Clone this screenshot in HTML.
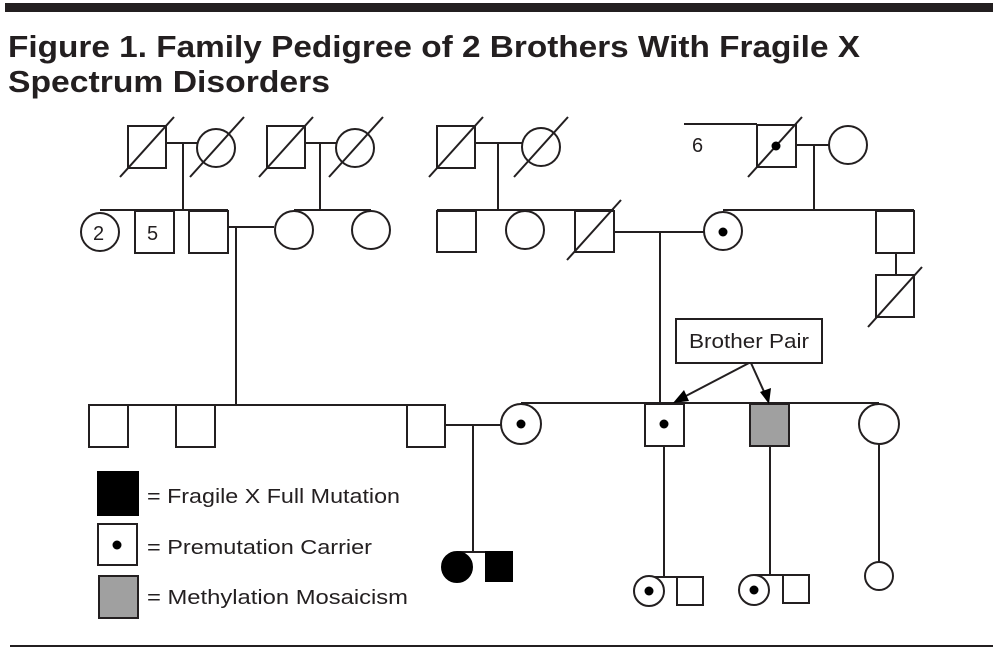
<!DOCTYPE html>
<html><head><meta charset="utf-8"><style>
html,body{margin:0;padding:0;background:#fff;}
svg{display:block;}
text{font-family:"Liberation Sans",sans-serif;fill:#231f20;}
</style></head><body>
<svg width="1005" height="652" viewBox="0 0 1005 652" xmlns="http://www.w3.org/2000/svg">
<rect x="5" y="3" width="988" height="9" fill="#231f20"/>
<text x="8" y="57" font-size="31" font-weight="bold" textLength="852" lengthAdjust="spacingAndGlyphs">Figure 1. Family Pedigree of 2 Brothers With Fragile X</text>
<text x="8" y="92" font-size="31" font-weight="bold" textLength="322" lengthAdjust="spacingAndGlyphs">Spectrum Disorders</text>
<line x1="10" y1="646" x2="993" y2="646" stroke="#231f20" stroke-width="2"/>

<g stroke="#231f20" stroke-width="2" fill="#fff">
<line x1="166" y1="143" x2="197" y2="143"/><line x1="183" y1="143" x2="183" y2="210"/>
<rect x="128" y="126" width="38" height="42"/><circle cx="216" cy="148" r="19"/>
<line x1="120" y1="177" x2="174" y2="117"/><line x1="190" y1="177" x2="244" y2="117"/>
<line x1="305" y1="143" x2="336" y2="143"/><line x1="320" y1="143" x2="320" y2="210"/>
<rect x="267" y="126" width="38" height="42"/><circle cx="355" cy="148" r="19"/>
<line x1="259" y1="177" x2="313" y2="117"/><line x1="329" y1="177" x2="383" y2="117"/>
<line x1="475" y1="143" x2="522" y2="143"/><line x1="498" y1="143" x2="498" y2="210"/>
<rect x="437" y="126" width="38" height="42"/><circle cx="541" cy="147" r="19"/>
<line x1="429" y1="177" x2="483" y2="117"/><line x1="514" y1="177" x2="568" y2="117"/>
<line x1="684" y1="124" x2="757" y2="124"/>
<line x1="796" y1="145" x2="829" y2="145"/><line x1="814" y1="145" x2="814" y2="210"/>
<rect x="757" y="125" width="39" height="42"/><circle cx="848" cy="145" r="19"/>
<line x1="748" y1="177" x2="802" y2="117"/>

<line x1="100" y1="210" x2="228" y2="210"/>
<circle cx="100" cy="232" r="19"/>
<rect x="135" y="211" width="39" height="42"/>
<rect x="189" y="211" width="39" height="42"/>
<line x1="228" y1="227" x2="274" y2="227"/><line x1="236" y1="227" x2="236" y2="405"/>
<circle cx="294" cy="230" r="19"/>
<line x1="294" y1="210" x2="371" y2="210"/>
<circle cx="371" cy="230" r="19"/>

<line x1="437" y1="210" x2="614" y2="210"/>
<rect x="437" y="211" width="39" height="41"/>
<circle cx="525" cy="230" r="19"/>
<rect x="575" y="211" width="39" height="41"/>
<line x1="567" y1="260" x2="621" y2="200"/>
<line x1="614" y1="232" x2="704" y2="232"/><line x1="660" y1="232" x2="660" y2="405"/>
<line x1="723" y1="210" x2="914" y2="210"/>
<circle cx="723" cy="231" r="19"/>
<rect x="876" y="211" width="38" height="42"/>
<line x1="896" y1="253" x2="896" y2="275"/>
<rect x="876" y="275" width="38" height="42"/>
<line x1="868" y1="327" x2="922" y2="267"/>

<line x1="89" y1="405" x2="445" y2="405"/>
<rect x="89" y="405" width="39" height="42"/>
<rect x="176" y="405" width="39" height="42"/>
<rect x="407" y="405" width="38" height="42"/>
<line x1="445" y1="425" x2="502" y2="425"/><line x1="473" y1="425" x2="473" y2="552"/>
<line x1="521" y1="403" x2="879" y2="403"/>
<circle cx="521" cy="424" r="20"/>
<line x1="664" y1="446" x2="664" y2="577"/>
<line x1="770" y1="446" x2="770" y2="575"/>
<line x1="879" y1="444" x2="879" y2="562"/>
<rect x="645" y="404" width="39" height="42"/>
<rect x="750" y="404" width="39" height="42" fill="#a0a0a0"/>
<circle cx="879" cy="424" r="20"/>

<rect x="676" y="319" width="146" height="44"/>
<line x1="749" y1="363" x2="682" y2="398"/>
<line x1="751" y1="363" x2="766" y2="396"/>

<line x1="457" y1="552" x2="512" y2="552"/>
<circle cx="457" cy="567" r="15" fill="#000" stroke="#000"/>
<rect x="486" y="552" width="26" height="29" fill="#000" stroke="#000"/>
<line x1="649" y1="577" x2="703" y2="577"/>
<circle cx="649" cy="591" r="15"/>
<rect x="677" y="577" width="26" height="28"/>
<line x1="755" y1="575" x2="809" y2="575"/>
<circle cx="754" cy="590" r="15"/>
<rect x="783" y="575" width="26" height="28"/>
<circle cx="879" cy="576" r="14"/>

<rect x="98" y="472" width="40" height="43" fill="#000" stroke="#000"/>
<rect x="98" y="524" width="39" height="41"/>
<rect x="99" y="576" width="39" height="42" fill="#a0a0a0"/>
</g>
<g fill="#000">
<circle cx="776" cy="146" r="4.5"/>
<circle cx="723" cy="232" r="4.5"/>
<circle cx="521" cy="424" r="4.5"/>
<circle cx="664" cy="424" r="4.5"/>
<circle cx="649" cy="591" r="4.5"/>
<circle cx="754" cy="590" r="4.5"/>
<circle cx="117" cy="545" r="4.5"/>
<polygon points="673,403 684,390 689,401"/>
<polygon points="769,404 760,392 771,388"/>
</g>
<text x="93" y="240" font-size="20">2</text>
<text x="147" y="240" font-size="20">5</text>
<text x="692" y="152" font-size="20">6</text>
<text x="689" y="348" font-size="20" textLength="120" lengthAdjust="spacingAndGlyphs">Brother Pair</text>
<text x="147" y="503" font-size="20" textLength="253" lengthAdjust="spacingAndGlyphs">= Fragile X Full Mutation</text>
<text x="147" y="554" font-size="20" textLength="225" lengthAdjust="spacingAndGlyphs">= Premutation Carrier</text>
<text x="147" y="604" font-size="20" textLength="261" lengthAdjust="spacingAndGlyphs">= Methylation Mosaicism</text>
</svg>
</body></html>
